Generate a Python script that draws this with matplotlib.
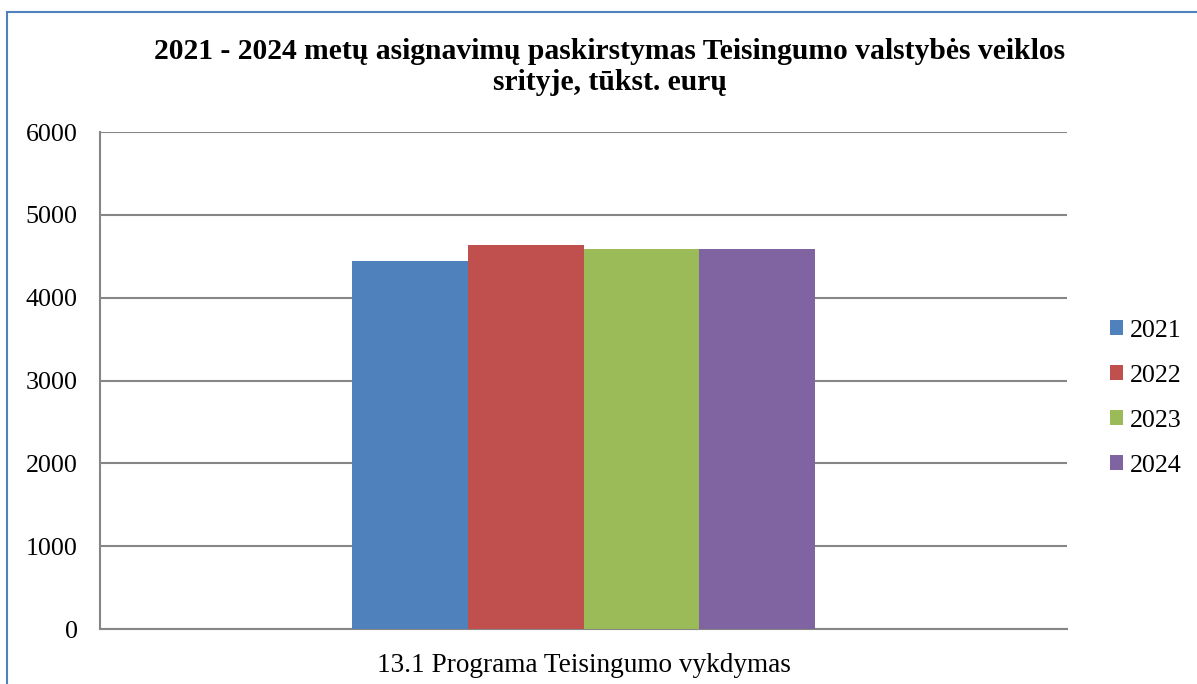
import matplotlib.pyplot as plt
from matplotlib.patches import Rectangle

# data
categories = ['13.1 Programa Teisingumo vykdymas']
years = ['2021', '2022', '2023', '2024']
values = [4444, 4638, 4589, 4589]
colors = ['#4f81bd', '#c0504d', '#9bbb59', '#8064a2']

title = '2021 - 2024 metų asignavimų paskirstymas Teisingumo valstybės veiklos\nsrityje, tūkst. eurų'

plt.rcParams['font.family'] = ['Liberation Serif', 'DejaVu Serif']

fig = plt.figure(figsize=(11.97, 6.84), dpi=100)
ax = fig.add_axes([100 / 1197, 1 - 629 / 684, 967 / 1197, 497 / 684])

# chart frame (blue border, runs off right/bottom edges)
fig.patches.append(Rectangle((7 / 1197, -0.05), 1.1, 1 - 12 / 684 + 0.05,
                             transform=fig.transFigure, fill=False,
                             edgecolor='#4f81bd', linewidth=1.5))

bar_w = 0.1195
n = len(years)
for i, (yr, v, c) in enumerate(zip(years, values, colors)):
    x = (i - (n - 1) / 2) * bar_w
    ax.bar(x, v, width=bar_w, color=c, label=yr, zorder=3)

ax.set_xlim(-0.5, 0.5)
ax.set_ylim(0, 6000)
ax.set_yticks(range(0, 6001, 1000))
ax.set_xticks([0])
ax.set_xticklabels(categories)
ax.tick_params(axis='both', length=0)
ax.tick_params(axis='x', labelsize=19.6, pad=17)
ax.tick_params(axis='y', labelsize=18.7, pad=16)
ax.yaxis.grid(True, color='#868686', linewidth=1.5, zorder=0)
for s in ['top', 'right']:
    ax.spines[s].set_visible(False)
for s in ['left', 'bottom']:
    ax.spines[s].set_color('#868686')
    ax.spines[s].set_linewidth(1.5)

fig.text(610 / 1197, 1 - 67 / 684, title, ha='center', va='center',
         fontsize=21.3, fontweight='bold', linespacing=1.15)

ax.legend(loc='center left', bbox_to_anchor=(1.034, 0.464), frameon=False,
          fontsize=18.7, handlelength=0.5, handleheight=0.5,
          handletextpad=0.25, labelspacing=0.88, borderaxespad=0)

fig.savefig('out.png', dpi=100)
